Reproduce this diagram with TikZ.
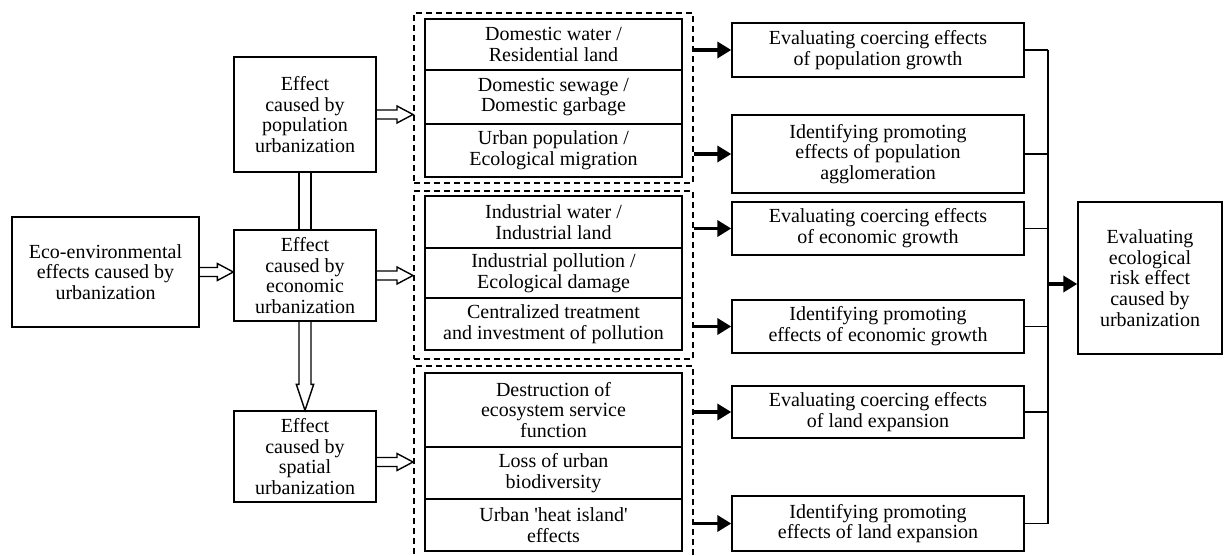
\documentclass[tikz,border=0pt]{standalone}
\usepackage{fontspec}
\setmainfont{Liberation Serif}
\usetikzlibrary{arrows.meta,calc}
\begin{document}
\begin{tikzpicture}[x=1pt,y=-1pt,
  font=\fontsize{20}{20.8}\selectfont,
  box/.style={draw, rectangle, line width=1.4pt, inner sep=0pt, align=center},
  grp/.style={draw, dash pattern=on 6pt off 4pt, line width=2pt},
  blk/.style={line width=3.6pt, -{Triangle[length=14pt,width=16pt]}},
  hol/.style={line width=1.4pt, line join=miter},
  hollowR/.style={to path={let \p1=(\tikztostart), \p2=(\tikztotarget) in
     (\x1,\y1+4.5pt) -- (\x2-16pt,\y1+4.5pt) -- (\x2-16pt,\y1+8.5pt) -- (\x2,\y1)
     -- (\x2-16pt,\y1-8.5pt) -- (\x2-16pt,\y1-4.5pt) -- (\x1,\y1-4.5pt)}},
  hollowD/.style={to path={let \p1=(\tikztostart), \p2=(\tikztotarget) in
     (\x1+6pt,\y1) -- (\x1+6pt,\y2+26pt) -- (\x1+8.7pt,\y2+26pt) -- (\x1,\y2)
     -- (\x1-8.7pt,\y2+26pt) -- (\x1-6pt,\y2+26pt) -- (\x1-6pt,\y1)}},
  twin/.style={to path={let \p1=(\tikztostart), \p2=(\tikztotarget) in
     (\x1+6pt,\y1) -- (\x1+6pt,\y2) (\x1-6pt,\y1) -- (\x1-6pt,\y2)}},
  bar/.style={line width=1.5pt}
]
\useasboundingbox (0,0) rectangle (1231,556);
\clip (0,0) rectangle (1231,556);

% left column
\node[box, minimum width=187pt, minimum height=110pt] (A) at (105.5,272) {Eco-environmental\\effects caused by\\urbanization};
\node[box, minimum width=142pt, minimum height=115pt] (P) at (305,114.5) {Effect\\caused by\\population\\urbanization};
\node[box, minimum width=142pt, minimum height=91pt] (E) at (305,275.5) {Effect\\caused by\\economic\\urbanization};
\node[box, minimum width=142pt, minimum height=91pt] (S) at (305,456.5) {Effect\\caused by\\spatial\\urbanization};

% dashed groups
\node[grp, minimum width=279pt, minimum height=170pt] (G1) at (553.5,98) {};
\node[grp, minimum width=279pt, minimum height=168pt] (G2) at (553.5,275) {};
\node[grp, minimum width=279pt, minimum height=200pt] (G3) at (553.5,466) {};

% inner boxes
\node[box, minimum width=257pt, minimum height=51pt] (g11) at (553.5,44.5) {Domestic water /\\Residential land};
\node[box, minimum width=257pt, minimum height=54pt] (g12) at (553.5,97) {Domestic sewage /\\Domestic garbage};
\node[box, minimum width=257pt, minimum height=53pt] (g13) at (553.5,150.5) {Urban population /\\Ecological migration};
\node[box, minimum width=257pt, minimum height=52pt] (g21) at (553.5,222) {Industrial water /\\Industrial land};
\node[box, minimum width=257pt, minimum height=50pt] (g22) at (553.5,273) {Industrial pollution /\\Ecological damage};
\node[box, minimum width=257pt, minimum height=52pt] (g23) at (553.5,324) {Centralized treatment\\and investment of pollution};
\node[box, minimum width=257pt, minimum height=74pt] (g31) at (553.5,410) {Destruction of\\ecosystem service\\function};
\node[box, minimum width=257pt, minimum height=52pt] (g32) at (553.5,473) {Loss of urban\\biodiversity};
\node[box, minimum width=257pt, minimum height=52pt] (g33) at (553.5,525) {Urban \textquotesingle heat island\textquotesingle\\effects};

% right column
\node[box, minimum width=292pt, minimum height=54pt] (R1) at (878,50) {Evaluating coercing effects\\of population growth};
\node[box, minimum width=292pt, minimum height=78pt] (R2) at (878,154) {Identifying promoting\\effects of population\\agglomeration};
\node[box, minimum width=292pt, minimum height=53pt] (R3) at (878,228.5) {Evaluating coercing effects\\of economic growth};
\node[box, minimum width=292pt, minimum height=53pt] (R4) at (878,326.5) {Identifying promoting\\effects of economic growth};
\node[box, minimum width=292pt, minimum height=52pt] (R5) at (878,412) {Evaluating coercing effects\\of land expansion};
\node[box, minimum width=292pt, minimum height=55pt] (R6) at (878,523.5) {Identifying promoting\\effects of land expansion};

\node[box, minimum width=144pt, minimum height=152pt] (F) at (1150,278) {Evaluating\\ecological\\risk effect\\caused by\\urbanization};

% hollow connectors
\draw[hol] (A.east) to[hollowR] (A.east -| E.west);
\draw[hol] (P.east) to[hollowR] (P.east -| G1.west);
\draw[hol] (E.east) to[hollowR] (E.east -| G2.west);
\draw[hol] ([yshift=-5.5pt]S.east) to[hollowR] ([yshift=-5.5pt]S.east -| G3.west);
\draw[hol] (P.south) to[twin] (E.north);
\draw[hol] (E.south) to[hollowD] (S.north);

% black arrows
\foreach \g/\r in {G1/R1,G1/R2,G2/R3,G2/R4,G3/R5,G3/R6}
  \draw[blk] (\g.east |- \r.west) -- (\r.west);

% bus
\coordinate (bus) at (1048,284);
\foreach \r in {R1,R2,R3,R4,R5,R6}
  \draw[bar] (\r.east) -- (\r.east -| bus);
\draw[bar] (R1.east -| bus) -- (R6.east -| bus);
\draw[blk] (bus) -- (bus -| F.west);
\end{tikzpicture}
\end{document}
